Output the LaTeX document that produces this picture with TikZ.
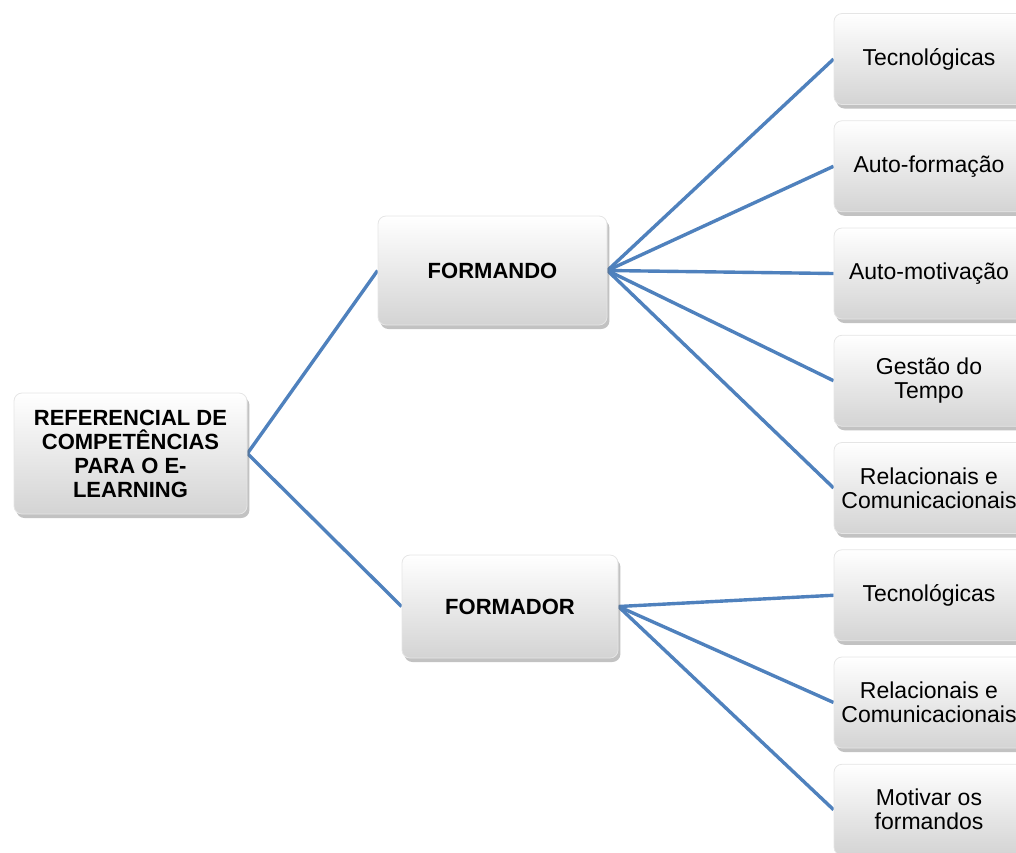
\documentclass[tikz,border=0pt]{standalone}
\usepackage{fontspec}
\setmainfont{Liberation Sans}
\usetikzlibrary{shadows,backgrounds}
\definecolor{branch-blue}{RGB}{79,129,189}
\definecolor{box-gray}{gray}{0.83}

\begin{document}
\begin{tikzpicture}[x=0.5pt,y=-0.5pt,
	box/.style={rounded corners=4pt,draw=black!10,top color=white,bottom color=box-gray,
		drop shadow={shadow xshift=1.2pt,shadow yshift=-2pt,fill=black!60,opacity=.4},
		align=center,inner sep=0pt,font=\fontsize{11.5}{12}\selectfont},
	mainbox/.style={box,font=\fontsize{11}{12}\selectfont\bfseries},
	leafbox/.style={box,minimum width=95pt,minimum height=45.5pt},
	branch/.style={branch-blue,line width=1.7pt}]
	\useasboundingbox (0,0) rectangle (1016,852);							% page frame
	\node[mainbox,minimum width=116.5pt,minimum height=60.5pt] (ref) at (130.5,453.5)
		{REFERENCIAL DE\\COMPETÊNCIAS\\PARA O E-\\LEARNING};				% root
	\node[mainbox,minimum width=114.5pt,minimum height=54.5pt] (formando) at (492.5,270.5) {FORMANDO};
	\node[mainbox,minimum width=108pt,minimum height=51.5pt] (formador) at (510,606.5) {FORMADOR};
	\foreach \txt [count=\i from 0] in {Tecnológicas,Auto-formação,Auto-motivação,
		{Gestão do\\Tempo},{Relacionais e\\Comunicacionais},Tecnológicas,
		{Relacionais e\\Comunicacionais},{Motivar os\\formandos}}{			% leaf column
		\node[leafbox] (leaf\i) at (929,59+107.25*\i) {\txt};
	}
	\begin{scope}[on background layer]
		\draw[branch] (ref.east) -- (formando.west);
		\draw[branch] (ref.east) -- (formador.west);
		\foreach \i in {0,...,4}{											% learner branches
			\draw[branch] (formando.east) -- (leaf\i.west);
		}
		\foreach \i in {5,6,7}{												% trainer branches
			\draw[branch] (formador.east) -- (leaf\i.west);
		}
	\end{scope}
\end{tikzpicture}
\end{document}
